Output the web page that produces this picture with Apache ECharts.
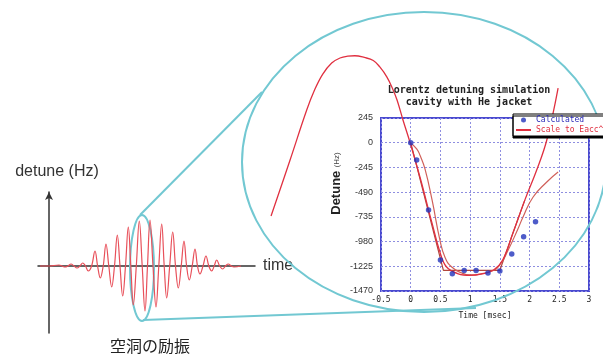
<!DOCTYPE html>
<html>
<head>
<meta charset="utf-8">
<script src="https://cdn.jsdelivr.net/npm/echarts/dist/echarts.min.js"></script>
<style>
  html, body {margin: 0; padding: 0; background: #fff;}
  #main {width: 603px; height: 356px;}
</style>
</head>
<body>
<div id="main"></div>
<script>
// left sketch: RF pulse (time offset, amplitude)
const pulseT = [-9, 0, 10, 13, 16, 19, 22, 25, 28, 31, 33.7, 36.5, 39.3, 42.6, 46, 48.6, 51.3, 54.2, 57, 59.8, 62.7, 65.5, 68.3, 71, 73.7, 76.5, 79.3, 81.8, 84.3, 87.3, 90.3, 93.2, 96, 98.5, 101, 104, 107, 109.8, 112.7, 115.2, 117.7, 120.7, 123.7, 126.5, 129.3, 132.2, 135, 137.6, 140.3, 143.2, 146, 148.5, 151, 154, 157, 159.8, 162.7, 165.2, 167.7, 170.7, 173.7, 176.5, 179.3, 182.2, 185, 192];
const pulseA = [0, 0, 1, 0, -1, 0, 2, 0, -2, 0, 3, 0, -5, 0, 15, 0, -12, 0, 22, 0, -21, 0, 31, 0, -30, 0, 39, 0, -39, 0, 45, 0, -45, 0, 46, 0, -41, 0, 42, 0, -32, 0, 34, 0, -22, 0, 25, 0, -14, 0, 17, 0, -8, 0, 10, 0, -5, 0, 6, 0, -3, 0, 2, 0, -1, 0];

// right plot: detune vs time [msec]
const calcTime = [0, 0.1, 0.3, 0.5, 0.7, 0.9, 1.1, 1.3, 1.5, 1.7, 1.9, 2.1];
const calcDetune = [0, -171, -667, -1163, -1298, -1268, -1268, -1292, -1272, -1103, -931, -783];

const scaleTime = [-2.35, -2.03, -1.75, -1.62, -1.48, -1.33, -1.19, -1.06, -0.94, -0.78, -0.63, -0.52, -0.4, -0.31, -0.23, -0.13, 0, 0.16, 0.36, 0.49, 0.6, 0.8, 1.0, 1.2, 1.4, 1.55, 1.72, 1.92, 2.12, 2.29, 2.48];
const scaleDetune = [-726, -171, 324, 520, 680, 790, 840, 858, 862, 845, 815, 751, 651, 542, 423, 225, -20, -350, -800, -1080, -1230, -1300, -1315, -1300, -1260, -1160, -896, -569, -271, 27, 542];

const fitTime = [0, 0.1, 0.16, 0.24, 0.36, 0.49, 0.58, 0.69, 0.86, 1.0, 1.17, 1.37, 1.5, 1.64, 1.8, 1.89, 2.06, 2.29, 2.48];
const fitDetune = [-5, -60, -130, -260, -570, -960, -1140, -1232, -1292, -1311, -1302, -1272, -1212, -1063, -860, -736, -538, -389, -290];

const stepTime = [0, 0.55, 1.5, 1.72, 1.92];
const stepDetune = [0, -1265, -1265, -896, -569];

const zip = (xs, ys) => xs.map((x, i) => [x, ys[i]]);

var myChart = echarts.init(document.getElementById('main'));
myChart.setOption({
  animation: false,
  backgroundColor: '#fff',
  title: [
    {
      text: 'Lorentz detuning simulation\ncavity with He jacket',
      left: 464, top: 79, textAlign: 'center',
      textStyle: {fontFamily: 'DejaVu Sans Mono', fontSize: 10, fontWeight: 'bold', color: '#222', lineHeight: 12}
    },
    {
      text: '空洞の励振',
      left: 145, top: 333, textAlign: 'center',
      textStyle: {fontFamily: 'Noto Sans CJK JP', fontSize: 16, fontWeight: 'normal', color: '#222'}
    }
  ],
  legend: {
    data: [
      {name: 'Calculated', textStyle: {color: '#2a2ab8'}},
      {name: 'Scale to Eacc^2', textStyle: {color: '#e03040'}, itemStyle: {opacity: 0}}
    ],
    orient: 'vertical',
    left: 513, top: 114,
    padding: [2, 4, 2, 2],
    itemGap: 2,
    itemWidth: 15, itemHeight: 5,
    backgroundColor: '#fff',
    borderColor: '#000', borderWidth: 1,
    shadowColor: '#000', shadowOffsetY: 2, shadowBlur: 0,
    textStyle: {fontFamily: 'DejaVu Sans Mono', fontSize: 8}
  },
  grid: [
    {left: 38, top: 192, width: 217, height: 141},           // sketch
    {left: 381, top: 118, right: 14, bottom: 65, show: true,   // detune plot
      borderColor: '#4a4ad0', borderWidth: 2, backgroundColor: 'transparent'},
    {left: 262.14, top: 41.84, right: 14, bottom: 65}          // same scale, wider range for the big curve
  ],
  xAxis: [
    {
      gridIndex: 0, type: 'value', min: -11, max: 206,
      axisLine: {lineStyle: {color: '#333', width: 1.5}},
      axisTick: {show: false}, axisLabel: {show: false}, splitLine: {show: false},
      name: 'time', nameLocation: 'end', nameGap: 8,
      nameTextStyle: {fontFamily: 'Liberation Sans', fontSize: 16, color: '#333', verticalAlign: 'middle'}
    },
    {
      gridIndex: 1, type: 'value', min: -0.5, max: 3, interval: 0.5,
      axisLine: {show: false}, axisTick: {show: false},
      axisLabel: {fontFamily: 'DejaVu Sans Mono', fontSize: 8, color: '#222', margin: 5},
      splitLine: {lineStyle: {color: '#8e8ee0', type: [2, 2]}},
      name: 'Time [msec]', nameLocation: 'middle', nameGap: 21,
      nameTextStyle: {fontFamily: 'DejaVu Sans Mono', fontSize: 8, color: '#222'}
    },
    {gridIndex: 2, type: 'value', min: -2.5, max: 3, show: false}
  ],
  yAxis: [
    {
      gridIndex: 0, type: 'value', min: -67, max: 74,
      axisLine: {onZero: true, symbol: ['none', 'arrow'], symbolSize: [6, 8], lineStyle: {color: '#333', width: 1.5}},
      axisTick: {show: false}, axisLabel: {show: false}, splitLine: {show: false},
      name: 'detune (Hz)', nameLocation: 'end', nameGap: 12,
      nameTextStyle: {fontFamily: 'Liberation Sans', fontSize: 16, color: '#333', padding: [0, 0, 0, 16]}
    },
    {
      gridIndex: 1, type: 'value', min: -1470, max: 245, interval: 245,
      axisLine: {show: false}, axisTick: {show: false},
      axisLabel: {fontFamily: 'Liberation Sans', fontSize: 9, color: '#333', margin: 8, formatter: v => String(v)},
      splitLine: {lineStyle: {color: '#8e8ee0', type: [2, 2]}},
      name: '{a|Detune} {b|(Hz)}', nameLocation: 'middle', nameGap: 38,
      nameTextStyle: {
        padding: [0, 0, 0, 42],
        rich: {
          a: {fontFamily: 'Liberation Sans', fontSize: 13, fontWeight: 'bold', color: '#222'},
          b: {fontFamily: 'Liberation Sans', fontSize: 8, color: '#444'}
        }
      }
    },
    {gridIndex: 2, type: 'value', min: -1470, max: 1000, show: false}
  ],
  graphic: [
    {type: 'ellipse', shape: {cx: 424, cy: 162, rx: 182, ry: 150}, style: {fill: 'none', stroke: '#72c8d2', lineWidth: 2}, z: 1},
    {type: 'ellipse', shape: {cx: 142, cy: 268, rx: 12, ry: 53}, style: {fill: 'none', stroke: '#72c8d2', lineWidth: 2}, z: 1},
    {type: 'line', shape: {x1: 140, y1: 215, x2: 262, y2: 92}, style: {stroke: '#72c8d2', lineWidth: 2}, z: 1},
    {type: 'line', shape: {x1: 143, y1: 320, x2: 476, y2: 308}, style: {stroke: '#72c8d2', lineWidth: 2}, z: 1}
  ],
  series: [
    {
      name: 'pulse', type: 'line', xAxisIndex: 0, yAxisIndex: 0,
      data: zip(pulseT, pulseA), smooth: 0.4, symbol: 'none',
      lineStyle: {color: '#e8505a', width: 1.2}, z: 3
    },
    {
      name: 'step', type: 'line', xAxisIndex: 1, yAxisIndex: 1,
      data: zip(stepTime, stepDetune), symbol: 'none',
      lineStyle: {color: '#b0463c', width: 1.2}
    },
    {
      name: 'fit', type: 'line', xAxisIndex: 1, yAxisIndex: 1,
      data: zip(fitTime, fitDetune), smooth: true, symbol: 'none',
      lineStyle: {color: '#d0605a', width: 1.2}
    },
    {
      name: 'Scale to Eacc^2', type: 'line', xAxisIndex: 2, yAxisIndex: 2,
      data: zip(scaleTime, scaleDetune), smooth: 0.4, symbol: 'none',
      itemStyle: {color: '#e03040'},
      lineStyle: {color: '#e03040', width: 1.3}
    },
    {
      name: 'Calculated', type: 'scatter', xAxisIndex: 1, yAxisIndex: 1,
      data: zip(calcTime, calcDetune), symbolSize: 5.5,
      itemStyle: {color: '#2233bb'}, z: 5
    }
  ]
});
</script>
</body>
</html>
